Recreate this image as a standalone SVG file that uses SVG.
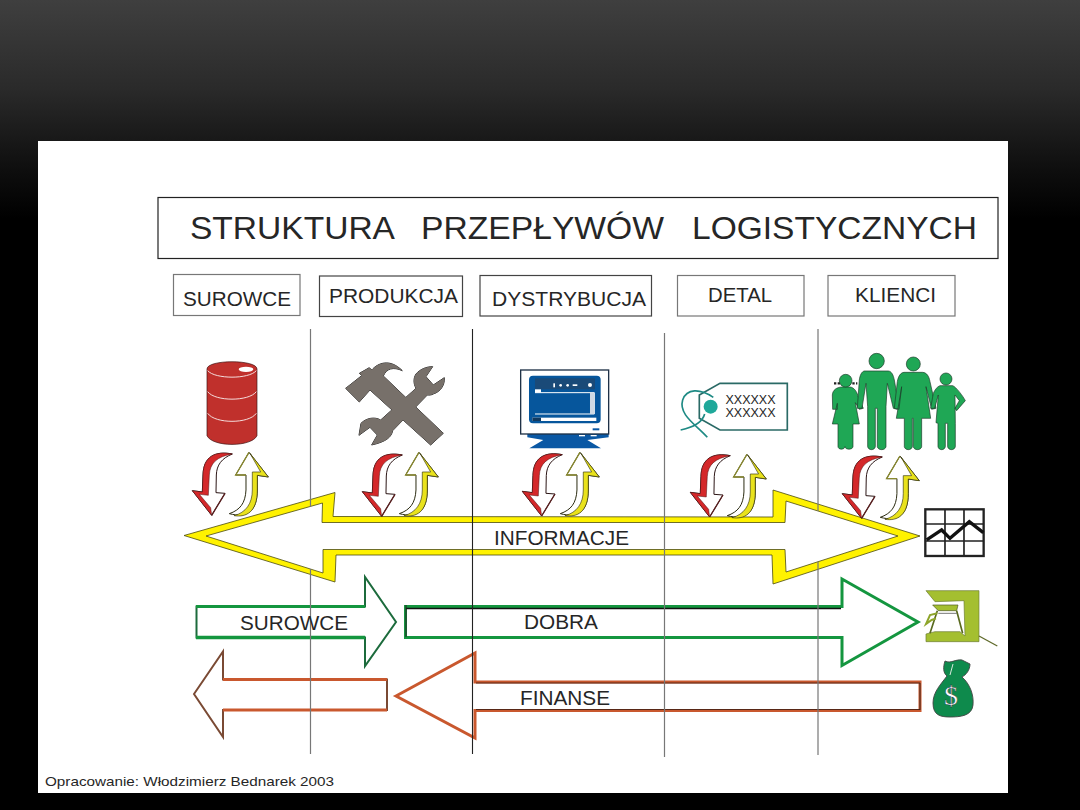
<svg xmlns="http://www.w3.org/2000/svg" width="1080" height="810" viewBox="0 0 1080 810">
<style>
  text { font-family: "Liberation Sans", Arial, sans-serif; fill: #262626; }
  .box { fill: #fff; stroke: #777; stroke-width: 1.2; }
  .head { font-size: 20.5px; }
  .lab { font-size: 20px; }
  .grid { stroke: #777; stroke-width: 1.2; }
  .grid-dark { stroke: #222; stroke-width: 1.1; }
  .green { fill: #fff; stroke: #14963f; stroke-width: 3; stroke-linejoin: miter; }
  .rust { fill: #fff; stroke: #c9582e; stroke-width: 3; stroke-linejoin: miter; }
  .edge { fill: none; stroke: #1a1a1a; stroke-width: .8; }
  .person { fill: #1fa755; stroke: #1c3a28; stroke-width: 2; }
</style>
<defs>
  <linearGradient id="bg" x1="0" y1="0" x2="0" y2="1">
    <stop offset="0" stop-color="#3f3f3f"/>
    <stop offset="0.11" stop-color="#2a2a2a"/>
    <stop offset="0.21" stop-color="#0e0e0e"/>
    <stop offset="0.27" stop-color="#000"/>
    <stop offset="1" stop-color="#000"/>
  </linearGradient>
  <!-- Curved pair of exchange arrows, drawn at 3x and scaled down on use -->
  <g id="arrowDown">
    <path d="M187,342 C135,332 100,350 99,405 L97,456 L67,452 L125,526 L165,460 L138,458 L139,405 C140,375 155,355 187,342 Z" fill="#fff" stroke="#2a1414" stroke-width="3"/>
    <path d="M187,342 C135,332 100,350 99,405 L97,456 L67,452 L125,526 L122,503 L88,463 L115,466 L118,405 C120,370 140,350 187,342 Z" fill="#d4282a" stroke="#4a1010" stroke-width="1.500"/>
    <path d="M165,460 L125,526" stroke="#5a2020" stroke-width="4" fill="none"/>
  </g>
  <g id="arrowUp">
    <path d="M237,337 L197,405 L228,405 L228,450 C226,490 210,510 178,521 C230,535 262,515 262,450 L262,406 L295,411 Z" fill="#fff" stroke="#2a2a10" stroke-width="3"/>
    <path d="M240,340 L295,411 L262,406 L262,450 C262,515 230,533 192,527 C228,518 247,490 247,450 L247,396 L272,396 Z" fill="#e9e21c" stroke="#3a3a10" stroke-width="2"/>
    <path d="M237,337 L197,405 L228,405" fill="none" stroke="#8a8a30" stroke-width="4"/>
  </g>
</defs>

<rect width="1080" height="810" fill="url(#bg)"/>
<rect x="38" y="141" width="970" height="652" fill="#fff"/>

<g id="title">
  <rect x="158" y="197.500" width="840" height="61" fill="#fff" stroke="#222" stroke-width="1.2"/>
  <text x="190" y="239" font-size="31" textLength="205" lengthAdjust="spacingAndGlyphs">STRUKTURA</text>
  <text x="421" y="239" font-size="31" textLength="243" lengthAdjust="spacingAndGlyphs">PRZEPŁYWÓW</text>
  <text x="692" y="239" font-size="31" textLength="285" lengthAdjust="spacingAndGlyphs">LOGISTYCZNYCH</text>
</g>

<g id="stage-surowce">
  <rect class="box" x="173.500" y="274.500" width="126.500" height="41"/>
  <text class="head" x="183" y="306" textLength="108" lengthAdjust="spacingAndGlyphs">SUROWCE</text>
</g>
<g id="stage-produkcja">
  <rect class="box" x="319.500" y="276" width="143" height="40.500" style="stroke:#444"/>
  <text class="head" x="329" y="303" textLength="129" lengthAdjust="spacingAndGlyphs">PRODUKCJA</text>
</g>
<g id="stage-dystrybucja">
  <rect class="box" x="480" y="275.500" width="171.500" height="40.500" style="stroke:#444"/>
  <text class="head" x="492" y="306" textLength="154" lengthAdjust="spacingAndGlyphs">DYSTRYBUCJA</text>
</g>
<g id="stage-detal">
  <rect class="box" x="677.500" y="275.500" width="126.500" height="40.500"/>
  <text class="head" x="708" y="302" textLength="64" lengthAdjust="spacingAndGlyphs">DETAL</text>
</g>
<g id="stage-klienci">
  <rect class="box" x="828" y="275.500" width="127" height="40.500"/>
  <text class="head" x="855" y="302" textLength="81" lengthAdjust="spacingAndGlyphs">KLIENCI</text>
</g>

<g id="connectors">
  <!-- Information flow: yellow double-headed band with a white core -->
  <g id="flow-informacje">
    <path d="M184,535.500 L335,492.500 L333,516.500 L773,517 L773,490 L920,536 L773,584 L772,555 L336,555 L335,582 Z M206,536 L322.500,503 L322,522.500 L785,522.500 L786,501 L898,536 L786,572 L785,549.500 L323,549.500 L323,573 Z" fill="#fff200" fill-rule="evenodd" stroke="#4a4a10" stroke-width=".8"/>
  </g>

  <!-- Goods flow -->
  <g id="flow-surowce">
    <path d="M196.500,606.500 L365,606.500 L365,577 L396,622 L365,666 L365,637.500 L196.500,637.500 Z" fill="#fff" stroke="#1c6b3c" stroke-width="2"/>
    <path d="M196,606.500 L365,606.500" stroke="#14963f" stroke-width="3" fill="none"/>
    <path d="M196,637.500 L365,637.500" stroke="#14963f" stroke-width="3.500" fill="none"/>
  </g>
  <g id="flow-dobra">
    <path class="green" d="M405.500,606.500 L842,606.500 L842,579 L918,622 L842,665.500 L842,637.500 L405.500,637.500 Z"/>
    <path d="M406,608.500 L841,608.500" stroke="#111" stroke-width="1.300" fill="none"/>
    <path d="M406,605 L406,637" stroke="#222" stroke-width="1" fill="none"/>
  </g>

  <!-- Money flow -->
  <g id="flow-finanse-a">
    <path d="M194,694 L223,651.500 L223,679.500 L387,679.500 L387,710 L223,710 L223,737 Z" fill="#fff" stroke="#7a4a34" stroke-width="2"/>
    <path d="M223,679.500 L387,679.500 M223,710 L387,710" stroke="#c9582e" stroke-width="3" fill="none"/>
  </g>
  <g id="flow-finanse-b">
    <path class="rust" d="M396,696 L475,653 L475,682 L920,682 L920,710.500 L475,710.500 L475,738 Z"/>
    <path class="edge" d="M920,683 L920,710"/>
    <path d="M476,683 L920,683 M476,709.500 L920,709.500" stroke="#3a1a10" stroke-width=".8" fill="none"/>
  </g>

  <!-- Column separators; the outer two stop at the white heads of the yellow band -->
  <g id="separators">
    <path class="grid" d="M310.500,329 L310.500,506.500 M310.500,569 L310.500,754"/>
    <line class="grid-dark" x1="472.500" y1="329" x2="472.500" y2="754"/>
    <line class="grid" x1="664.500" y1="333" x2="664.500" y2="757"/>
    <path class="grid" d="M818,329 L818,511 M818,561.700 L818,755"/>
  </g>

  <!-- Exchange arrows under each stage -->
  <g transform="translate(170,340) scale(.3333)">
    <use href="#arrowDown"/><use href="#arrowUp"/>
    <use href="#arrowDown" x="510" y="3"/><use href="#arrowUp" x="510" y="0"/>
    <use href="#arrowDown" x="990" y="2"/><use href="#arrowUp" x="993" y="0"/>
    <use href="#arrowDown" x="1494" y="5"/><use href="#arrowUp" x="1494" y="6"/>
    <use href="#arrowDown" x="1950" y="9"/><use href="#arrowUp" x="1953" y="11"/>
  </g>
</g>

<g id="flow-labels">
  <text class="lab" x="494" y="545" textLength="135" lengthAdjust="spacingAndGlyphs">INFORMACJE</text>
  <text class="lab" x="240" y="630" textLength="108" lengthAdjust="spacingAndGlyphs">SUROWCE</text>
  <text class="lab" x="524" y="629" textLength="74" lengthAdjust="spacingAndGlyphs">DOBRA</text>
  <text class="lab" x="520" y="705" textLength="90" lengthAdjust="spacingAndGlyphs">FINANSE</text>
</g>

<!-- Oil drum -->
<g id="icon-barrel" transform="translate(170,340) scale(.3333)">
  <path d="M111,87 C111,58 261,58 261,87 L261,287 C245,322 127,322 111,287 Z" fill="#c0302c" stroke="#3a1212" stroke-width="2"/>
  <path d="M113,92 C135,118 237,118 259,92" fill="none" stroke="#f4dcdc" stroke-width="3"/>
  <path d="M113,155 C135,185 237,185 259,155" fill="none" stroke="#f4dcdc" stroke-width="3"/>
  <path d="M113,220 C135,252 237,252 259,220" fill="none" stroke="#f4dcdc" stroke-width="3"/>
  <ellipse cx="228" cy="88" rx="22" ry="8" fill="#fff"/>
</g>

<!-- Crossed hammer and spanner: outlined first, then filled so the crossing merges -->
<g id="icon-tools" transform="translate(170,340) scale(.3333)">
  <defs>
    <path id="spanner" d="M567,286 L573,250 C590,233 615,230 632,240 L738,145 C730,130 730,115 738,102 C750,88 768,80 788,80 L768,110 L790,135 L823,113 C825,135 812,155 790,162 C785,165 778,166 772,165 L668,272 C665,290 650,305 605,315 L622,285 L600,262 Z"/>
    <path id="hammer" d="M527,145 L575,107 L568,100 L598,83 L605,90 C625,68 660,55 697,92 C670,80 650,85 640,108 L820,280 L782,315 L600,150 L568,186 Z"/>
  </defs>
  <g fill="#77706a" stroke="#2a2a2a" stroke-width="3">
    <use href="#spanner"/><use href="#hammer"/>
  </g>
  <g fill="#77706a">
    <use href="#spanner"/><use href="#hammer"/>
  </g>
</g>

<!-- Computer monitor -->
<g id="icon-monitor" transform="translate(500,350) scale(.3333)">
  <path d="M82,252 L326,252 L326,262 L262,270 L303,295 L88,295 L130,270 L82,262 Z" fill="#0a58a4"/>
  <rect x="62" y="60" width="264" height="192" fill="#fff" stroke="#1f3147" stroke-width="4"/>
  <rect x="87" y="77" width="215" height="143" rx="12" fill="#06569c"/>
  <rect x="105" y="85" width="180" height="33" fill="#1a4a78"/>
  <rect x="105" y="118" width="18" height="10" fill="#fff"/>
  <path d="M105,128 L283,128 L283,192 L105,192" fill="none" stroke="#fff" stroke-width="3"/>
  <rect x="270" y="128" width="13" height="64" fill="#cfd9e4"/>
  <rect x="97" y="203" width="192" height="10" fill="#fff"/>
  <rect x="97" y="203" width="26" height="10" fill="#123a60"/>
  <g fill="#fff">
    <rect x="160" y="100" width="5" height="12"/><circle cx="182" cy="106" r="4"/><circle cx="203" cy="106" r="4"/>
    <rect x="218" y="103" width="14" height="5"/><circle cx="270" cy="105" r="6"/>
  </g>
  <rect x="278" y="235" width="20" height="6" fill="#0a58a4"/>
  <rect x="237" y="255" width="18" height="4" fill="#fff"/>
  <rect x="272" y="255" width="18" height="4" fill="#fff"/>
</g>

<!-- Price tag -->
<g id="icon-tag">
  <g transform="translate(500,350) scale(.3333)">
    <path d="M660,100 L862,100 L862,240 L660,240 L598,205 L598,135 Z" fill="#fff" stroke="#2a6a66" stroke-width="5"/>
    <path d="M640,142 C600,115 560,115 548,150 C535,195 590,225 622,262 M542,240 C580,232 608,215 614,192" fill="none" stroke="#1e8a84" stroke-width="5"/>
    <circle cx="632" cy="170" r="21" fill="#1fa89a"/>
  </g>
  <text x="725.500" y="403.500" font-size="12.500">XXXXXX</text>
  <text x="725.500" y="416.500" font-size="12.500">XXXXXX</text>
</g>

<!-- Family of four -->
<g id="icon-family" transform="translate(800,340) scale(.3333)">
  <path d="M102,130 L172,130" stroke="#222" stroke-width="7" stroke-dasharray="7 4"/>
  <path class="person" d="M125,141 L150,141 C162,142 172,155 176,175 L190,205 L178,208 L166,188 L178,252 L159,252 L159,320 C158,330 136,330 135,320 L135,320 C133,330 115,330 114,320 L114,252 L97,252 L112,190 L112,208 L98,208 L97,165 C98,150 110,142 125,141 Z"/>
  <circle class="person" cx="137" cy="122" r="19"/>
  <path class="person" d="M193,93 L265,93 C275,94 280,105 283,120 L296,195 L292,208 L280,205 L262,130 L258,200 L258,320 C256,332 234,332 232,320 L232,205 L226,205 L226,320 C224,332 205,332 203,320 L203,200 L198,130 L186,205 L172,205 L178,120 C180,105 185,95 193,93 Z"/>
  <circle class="person" cx="230" cy="63" r="23"/>
  <path class="person" d="M312,97 L368,97 C380,98 387,108 390,125 L408,205 L395,208 L378,140 L392,235 L365,235 L365,320 C363,332 342,332 340,320 L340,235 L337,235 L337,320 C335,332 315,332 313,320 L313,235 L289,235 L305,140 L297,208 L283,205 L292,125 C295,108 302,98 312,97 Z"/>
  <circle class="person" cx="340" cy="72" r="21"/>
  <path class="person" d="M420,137 L458,137 C468,140 490,170 496,182 L470,212 L465,205 L478,182 L465,165 L466,250 L466,320 C464,332 445,332 443,320 L443,250 L436,250 L436,320 C434,332 416,332 414,320 L414,250 L408,248 L415,165 L404,205 L392,205 L400,160 C405,148 412,140 420,137 Z"/>
  <circle class="person" cx="438" cy="117" r="18"/>
</g>

<!-- Chart -->
<g id="icon-chart" transform="translate(800,340) scale(.3333)">
  <rect x="376" y="508" width="175" height="140" fill="#fff" stroke="#222" stroke-width="7"/>
  <path d="M435,508 L435,648 M492,508 L492,648 M376,552 L551,552 M376,603 L551,603" stroke="#222" stroke-width="5" fill="none"/>
  <path d="M380,600 L425,570 L450,595 L508,545 L550,578" stroke="#111" stroke-width="10" fill="none"/>
</g>

<!-- Coffee machine -->
<g id="icon-coffee" transform="translate(820,570) scale(.3333)">
  <path d="M318,62 L477,62 L477,215 L318,215 L318,192 L345,185 L420,185 L435,198 L432,92 L345,95 Z" fill="#a4bf30" stroke="#6a7a30" stroke-width="2"/>
  <path d="M338,105 L414,105 L410,122 L355,122 Z" fill="#a4bf30" stroke="#4a5520" stroke-width="2"/>
  <path d="M352,122 L330,190 M410,122 L428,190" stroke="#5a6a20" stroke-width="5" fill="none"/>
  <path d="M352,130 L330,135 L318,162 L335,150 L348,145" fill="none" stroke="#8ea52a" stroke-width="6"/>
  <path d="M355,130 L410,130" stroke="#333" stroke-width="2"/>
  <path d="M477,198 L532,228" stroke="#5f6a2a" stroke-width="4"/>
</g>

<!-- Money bag -->
<g id="icon-moneybag">
  <path d="M945,661 C951,664 955,659 962,660 L970,664 C970,670 966,675 962,677 C970,684 974,695 973,705 C972,716 960,717 950,717 C940,717 933,715 933,703 C933,692 941,684 947,676 C943,673 943,667 945,661 Z" fill="#0e8a4c" stroke="#444" stroke-width=".9"/>
  <path d="M953,664 L950,675" stroke="#d8e8dc" stroke-width="1" fill="none"/>
  <text x="951" y="705" font-size="28" text-anchor="middle" style="font-family:'Liberation Serif',serif;fill:#fff;stroke:#123;stroke-width:.4">$</text>
</g>

<text id="footer" x="45" y="786" font-size="13.500" textLength="289" lengthAdjust="spacingAndGlyphs">Opracowanie: Włodzimierz Bednarek 2003</text>
</svg>
